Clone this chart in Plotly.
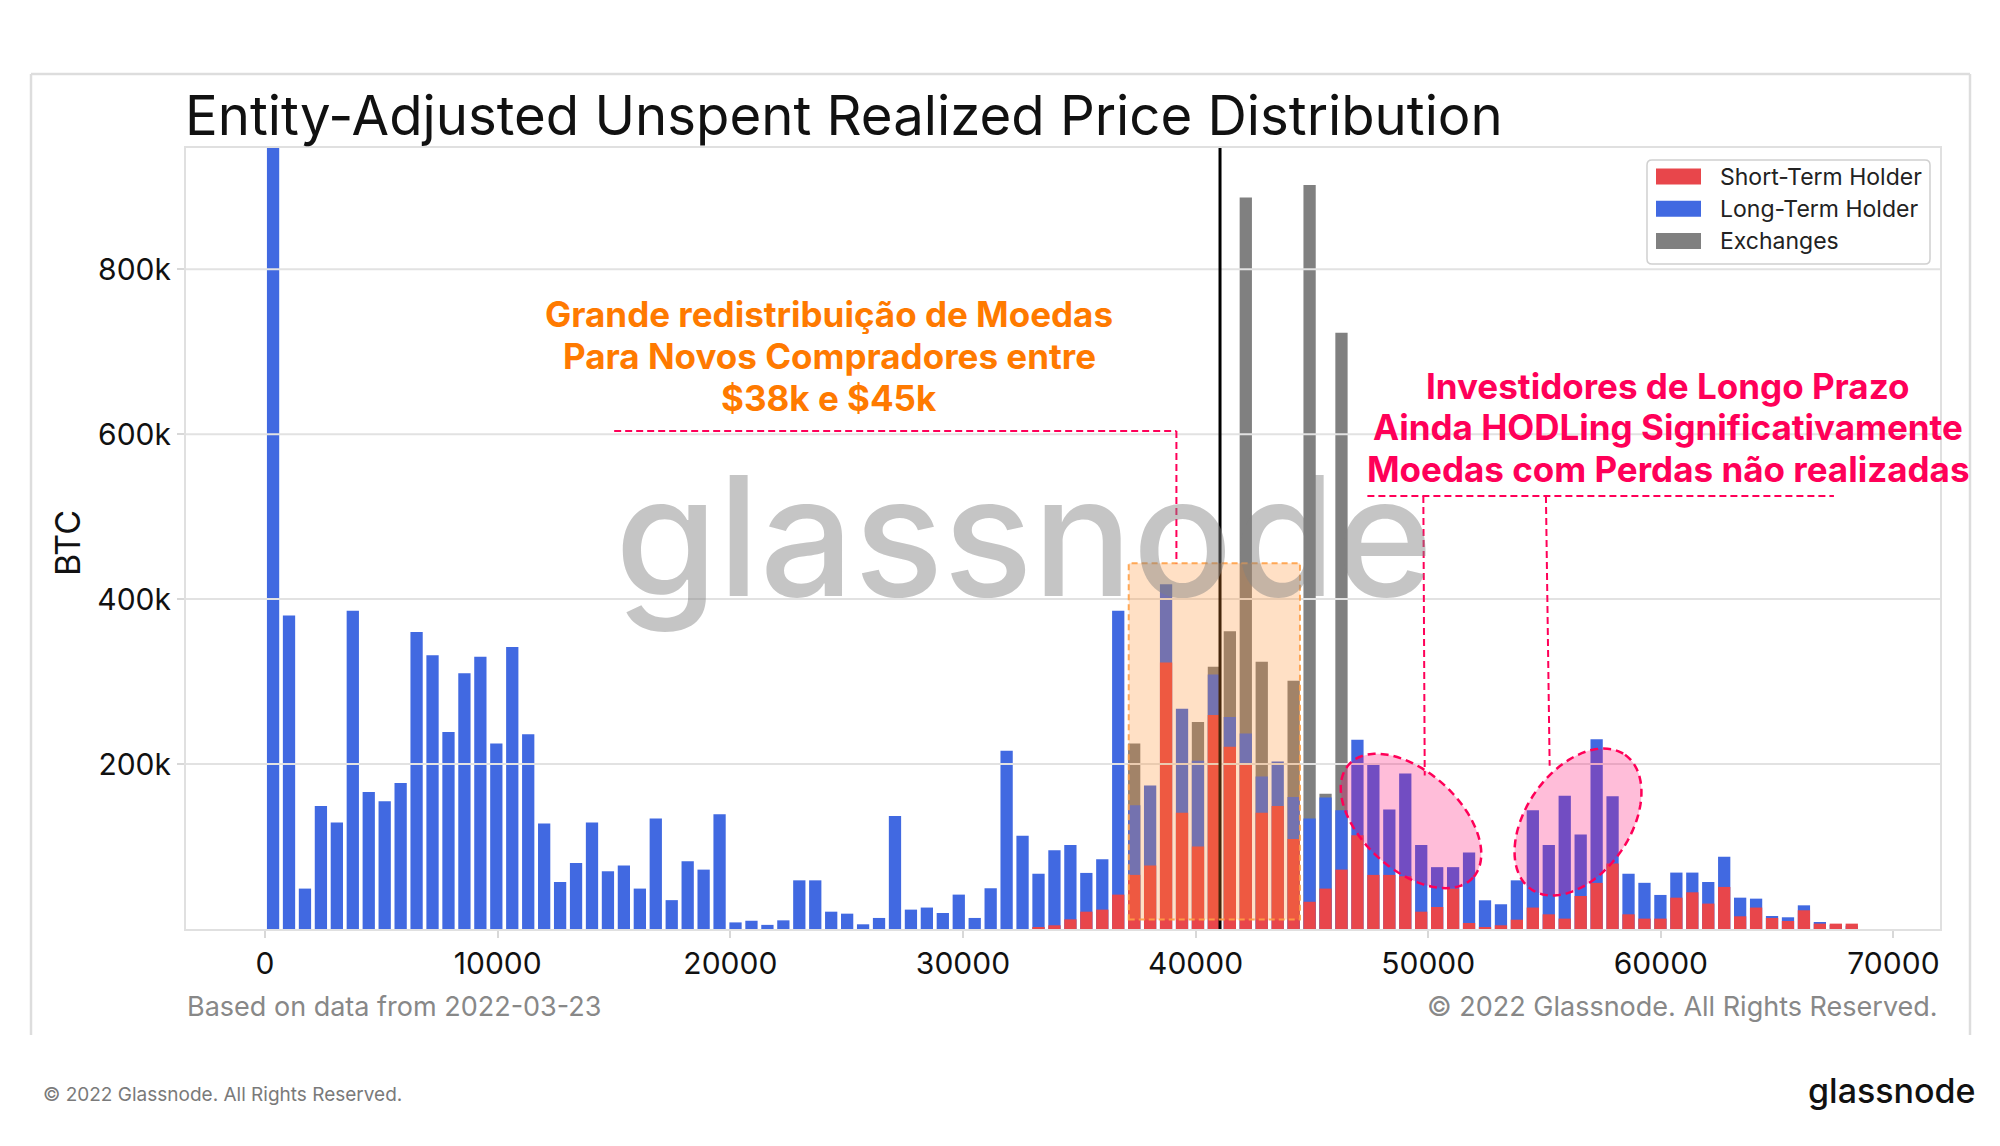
import numpy as np
import plotly.graph_objects as go

# ---------------- data (BTC, thousands) ----------------
BIN_WIDTH = 685.5          # price bin width (USD)
N_BINS = 100

short_term_holder_k = [
    0, 0, 0, 0, 0, 0, 0, 0, 0, 0,
    0, 0, 0, 0, 0, 0, 0, 0, 0, 0,
    0, 0, 0, 0, 0, 0, 0, 0, 0, 0,
    0, 0, 0, 0, 0, 0, 0, 0, 0, 0,
    0, 0, 0, 0, 0, 0, 0, 0, 2.4, 4.5,
    11.7, 21, 23.5, 41.7, 65.6, 77, 323, 141, 100, 259.5,
    221, 199, 141, 149, 109, 33, 49, 72, 113.8, 65.6,
    65.6, 64, 21, 26.7, 49, 7.3, 2.4, 4.5, 11.3, 26,
    17.8, 12.6, 40, 55.9, 79.4, 17.8, 12.6, 12.6, 38, 44.5,
    30.8, 51, 15.4, 26, 13.4, 9.7, 22.7, 6.5, 6.5, 6.5,
]
long_term_holder_k = [
    1100, 380, 49, 149, 129, 386, 166, 155, 177, 360,
    332, 239, 310, 330, 225, 342, 236, 128, 57, 80,
    129, 70, 77, 49, 134, 35, 82, 72, 139, 8,
    10, 5, 10.5, 59, 59, 21, 18.6, 5.7, 13.4, 137,
    23.5, 26, 19.4, 41.7, 13.4, 49.4, 216, 113, 67, 95.6,
    102, 68, 84.6, 386, 150, 174, 418, 267, 204, 308.5,
    257, 237, 185, 203, 160, 134, 159.5, 144, 229.6, 200.8,
    145, 188.7, 102, 75, 75, 92.7, 34.8, 30, 59, 144,
    102, 161.6, 114.6, 230, 161, 67, 56, 41.3, 68.4, 68.4,
    57, 87.5, 38, 36.8, 15.8, 14.2, 28.7, 8.5, 5, 4,
]
exchanges_k = [
    0, 0, 0, 0, 0, 0, 0, 0, 0, 0,
    0, 0, 0, 0, 0, 0, 0, 0, 0, 0,
    0, 0, 0, 0, 0, 0, 0, 0, 0, 0,
    0, 0, 0, 0, 0, 0, 0, 0, 0, 0,
    0, 0, 0, 0, 0, 0, 0, 0, 0, 0,
    0, 0, 0, 0, 225, 0, 0, 0, 251, 318,
    361, 887, 324, 0, 301, 902, 164, 723, 0, 0,
    0, 0, 0, 0, 0, 0, 0, 0, 0, 0,
    0, 0, 0, 0, 0, 0, 0, 0, 0, 0,
    0, 0, 0, 0, 0, 0, 0, 0, 0, 0,
]
series_names = ["Short-Term Holder", "Long-Term Holder", "Exchanges"]
series_colors = ["#E8464B", "#4169E1", "#808080"]

x_ticks = [0, 10000, 20000, 30000, 40000, 50000, 60000, 70000]
x_tick_labels = ["0", "10000", "20000", "30000", "40000", "50000", "60000", "70000"]
y_ticks = [200000, 400000, 600000, 800000]
y_tick_labels = ["200k", "400k", "600k", "800k"]
current_price = 41050

highlight_range = (37125, 44487, 11500, 443600)   # orange box (x0, x1, y0, y1)

# ---------------- geometry ----------------
W, H = 2000, 1146
ML, MR, MT, MB = 186, 60, 148, 217
PW, PH = W - ML - MR, H - MT - MB
XR = [-3400, 72000]
YR = [0, 947000]
FONT = "Inter"
PINK = "#FF0058"
ORANGE_TXT = "#FF7A00"


def px_x(px):
    return XR[0] + (px - ML) / PW * (XR[1] - XR[0])


def px_y(py):
    return YR[0] + (H - MB - py) / PH * (YR[1] - YR[0])


def pap_x(px):
    return (px - ML) / PW


def pap_y(py):
    return (H - MB - py) / PH


centers = (np.arange(N_BINS) + 0.5) * BIN_WIDTH

fig = go.Figure()
for vals, name, col in [(exchanges_k, series_names[2], series_colors[2]),
                        (long_term_holder_k, series_names[1], series_colors[1]),
                        (short_term_holder_k, series_names[0], series_colors[0])]:
    fig.add_trace(go.Bar(x=centers, y=np.array(vals) * 1000, name=name,
                         marker=dict(color=col, line=dict(width=0)),
                         showlegend=False))

shapes = []
# horizontal grid lines drawn above bars
for yv in y_ticks:
    shapes.append(dict(type="line", xref="paper", yref="y", x0=0, x1=1, y0=yv, y1=yv,
                       line=dict(color="#E2E2E2", width=2), layer="above"))
# current price line
shapes.append(dict(type="line", xref="x", yref="paper", x0=current_price, x1=current_price,
                   y0=0, y1=1, line=dict(color="black", width=3), layer="above"))
# orange highlight box
hx0, hx1, hy0, hy1 = highlight_range
shapes.append(dict(type="rect", xref="x", yref="y", x0=hx0, x1=hx1, y0=hy0, y1=hy1,
                   fillcolor="rgba(255,140,40,0.27)",
                   line=dict(color="rgba(255,160,70,0.9)", width=2, dash="6px,4px"),
                   layer="above"))


def ellipse_path(cx, cy, a, b, ang_deg):
    t = np.linspace(0, 2 * np.pi, 90)
    th = np.radians(ang_deg)
    ex = cx + a * np.cos(t) * np.cos(th) - b * np.sin(t) * np.sin(th)
    ey = cy + a * np.cos(t) * np.sin(th) + b * np.sin(t) * np.cos(th)
    pts = [f"{px_x(u):.2f},{px_y(v):.2f}" for u, v in zip(ex, ey)]
    return "M" + " L".join(pts) + " Z"


# pink ellipses (pixel geometry, screen y down)
for cx, cy, a, b, ang in [(1411, 821, 84, 49, 42.4), (1578, 822, 82, 52, -55)]:
    shapes.append(dict(type="path", xref="x", yref="y", path=ellipse_path(cx, cy, a, b, ang),
                       fillcolor="rgba(255,0,110,0.26)",
                       line=dict(color=PINK, width=2.5, dash="8px,5px"), layer="above"))

# dashed pointer lines
dash_lines = [
    (15006, 604000, 39175, 604000),
    (39175, 604000, 39175, 443600),
    (47385, 525000, 67440, 525000),
    (49790, 525000, 49850, 186000),
    (55060, 525000, 55220, 198000),
]
for x0, y0, x1, y1 in dash_lines:
    shapes.append(dict(type="line", xref="x", yref="y", x0=x0, y0=y0, x1=x1, y1=y1,
                       line=dict(color=PINK, width=2, dash="7px,4px"), layer="above"))

# outer frame (top, left, right)
for (a0, b0, a1, b1) in [(31, 74, 1970, 74), (31, 74, 31, 1035), (1970, 74, 1970, 1035)]:
    shapes.append(dict(type="line", xref="paper", yref="paper",
                       x0=pap_x(a0), y0=pap_y(b0), x1=pap_x(a1), y1=pap_y(b1),
                       line=dict(color="#DDDDDD", width=2.5), layer="above"))


# legend box (rounded)
def rrect(x0, y0, x1, y1, r):
    X = lambda v: f"{pap_x(v):.5f}"
    Y = lambda v: f"{pap_y(v):.5f}"
    return (f"M{X(x0 + r)},{Y(y0)} L{X(x1 - r)},{Y(y0)} Q{X(x1)},{Y(y0)} {X(x1)},{Y(y0 + r)} "
            f"L{X(x1)},{Y(y1 - r)} Q{X(x1)},{Y(y1)} {X(x1 - r)},{Y(y1)} "
            f"L{X(x0 + r)},{Y(y1)} Q{X(x0)},{Y(y1)} {X(x0)},{Y(y1 - r)} "
            f"L{X(x0)},{Y(y0 + r)} Q{X(x0)},{Y(y0)} {X(x0 + r)},{Y(y0)} Z")


shapes.append(dict(type="path", xref="paper", yref="paper", path=rrect(1647, 160, 1930, 264, 5),
                   fillcolor="white", line=dict(color="#D0D0D0", width=1.5), layer="above"))
legend_rows = [176.5, 208.7, 240.9]
annotations = []
for name, col, ry in zip(series_names, series_colors, legend_rows):
    shapes.append(dict(type="rect", xref="paper", yref="paper",
                       x0=pap_x(1656), x1=pap_x(1701), y0=pap_y(ry - 8), y1=pap_y(ry + 8),
                       fillcolor=col, line=dict(width=0), layer="above"))
    annotations.append(dict(text=name, xref="paper", yref="paper", x=pap_x(1718), y=pap_y(ry),
                            xanchor="left", yanchor="middle", showarrow=False,
                            font=dict(family=FONT, size=23, color="#222222")))

# watermark
annotations.append(dict(text="glassnode", xref="paper", yref="paper", x=pap_x(1024), y=pap_y(535),
                        xanchor="center", yanchor="middle", showarrow=False,
                        font=dict(family=FONT, size=166, color="rgba(128,128,128,0.46)", weight=500)))

# title
annotations.append(dict(text="Entity-Adjusted Unspent Realized Price Distribution",
                        xref="paper", yref="paper", x=pap_x(183), y=pap_y(115),
                        xanchor="left", yanchor="middle", showarrow=False,
                        font=dict(family=FONT, size=54.5, color="#111111")))
# y axis title
annotations.append(dict(text="BTC", xref="paper", yref="paper", x=pap_x(67), y=pap_y(543),
                        xanchor="center", yanchor="middle", textangle=-90, showarrow=False,
                        font=dict(family=FONT, size=34, color="#111111")))

# orange text
for txt, cy in zip(["Grande redistribuição de Moedas", "Para Novos Compradores entre", "$38k e $45k"],
                   [314, 356, 398]):
    annotations.append(dict(text=txt, xref="paper", yref="paper", x=pap_x(829), y=pap_y(cy),
                            xanchor="center", yanchor="middle", showarrow=False,
                            font=dict(family=FONT, size=35, color=ORANGE_TXT, weight=700)))
# pink text
for txt, cy in zip(["Investidores de Longo Prazo", "Ainda HODLing Significativamente",
                    "Moedas com Perdas não realizadas"], [386, 427, 469]):
    annotations.append(dict(text=txt, xref="paper", yref="paper", x=pap_x(1668), y=pap_y(cy),
                            xanchor="center", yanchor="middle", showarrow=False,
                            font=dict(family=FONT, size=35, color=PINK, weight=700)))

# captions
annotations.append(dict(text="Based on data from 2022-03-23", xref="paper", yref="paper",
                        x=pap_x(185), y=pap_y(1006), xanchor="left", yanchor="middle",
                        showarrow=False, font=dict(family=FONT, size=27, color="#888888")))
annotations.append(dict(text="© 2022 Glassnode. All Rights Reserved.", xref="paper", yref="paper",
                        x=pap_x(1940), y=pap_y(1006), xanchor="right", yanchor="middle",
                        showarrow=False, font=dict(family=FONT, size=27, color="#888888")))
annotations.append(dict(text="© 2022 Glassnode. All Rights Reserved.", xref="paper", yref="paper",
                        x=pap_x(41), y=pap_y(1094), xanchor="left", yanchor="middle",
                        showarrow=False, font=dict(family=FONT, size=19, color="#7A7A7A")))
annotations.append(dict(text="glassnode", xref="paper", yref="paper",
                        x=pap_x(1978), y=pap_y(1090), xanchor="right", yanchor="middle",
                        showarrow=False, font=dict(family=FONT, size=34, color="#111111", weight=500)))

fig.update_layout(
    width=W, height=H,
    margin=dict(l=ML, r=MR, t=MT, b=MB, autoexpand=False),
    paper_bgcolor="white", plot_bgcolor="white",
    barmode="overlay", bargap=0.23,
    showlegend=False,
    shapes=shapes, annotations=annotations,
    font=dict(family=FONT, color="#111111"),
)
fig.update_xaxes(range=XR, tickvals=x_ticks, ticktext=x_tick_labels, ticks="outside", ticklen=7,
                 tickwidth=1.5, tickcolor="#D8D8D8", showgrid=False, zeroline=False,
                 showline=True, linecolor="#E0E0E0", linewidth=2, mirror=True,
                 tickfont=dict(family=FONT, size=30, color="#111111"))
fig.update_yaxes(range=YR, tickvals=y_ticks, ticktext=y_tick_labels, ticks="outside", ticklen=7,
                 tickwidth=1.5, tickcolor="#D8D8D8", showgrid=False, zeroline=False,
                 showline=True, linecolor="#E0E0E0", linewidth=2, mirror=True,
                 tickfont=dict(family=FONT, size=30, color="#111111"))

fig.write_html("out.html",
               config={"displayModeBar": False},
               post_script="document.body.style.margin='0px';document.body.style.padding='0px';"
                           "document.documentElement.style.overflow='hidden';")
